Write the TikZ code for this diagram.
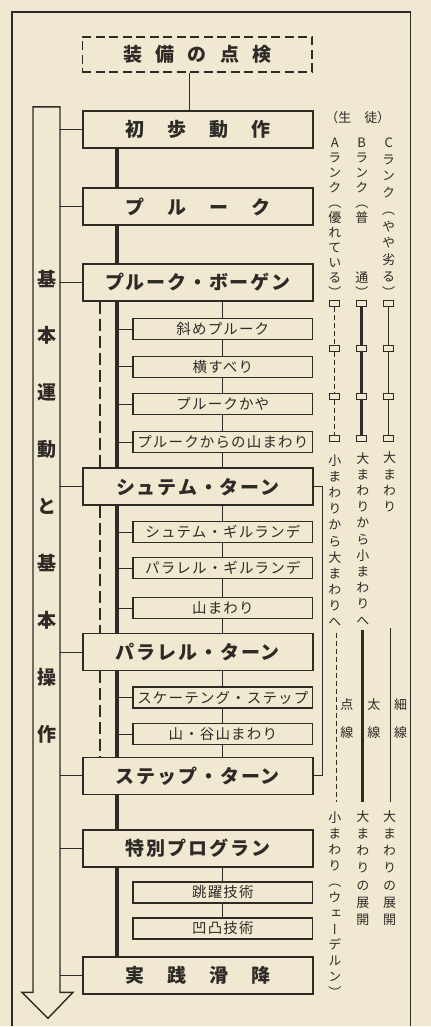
\documentclass[tikz,border=0pt]{standalone}
\usepackage{fontspec}
\setmainfont{Noto Sans CJK JP}
\newfontfamily\jp{Noto Sans CJK JP}
\newfontfamily\jpmain[LetterSpace=10]{Noto Sans CJK JP}
\newfontfamily\jpsub[LetterSpace=8]{Noto Sans CJK JP}
\newfontfamily\jpvert[RawFeature=+vert]{Noto Sans CJK JP}

\tikzset{
  mainbox/.style={draw=kInk,fill=kPaper,line width=1.8pt,minimum width=230pt,minimum height=37pt,inner sep=0pt,text=kInk,font=\jpmain\bfseries\fontsize{19}{19}\selectfont},
  prepbox/.style={mainbox,dash pattern=on 9pt off 4.5pt,minimum height=35pt},
  subbox/.style={draw=kInk,fill=kPaper,line width=1.3pt,minimum width=180pt,minimum height=21pt,inner sep=0pt,text=kInk,font=\jpsub\fontsize{14.5}{14.5}\selectfont},
  arrowtext/.style={align=center,inner sep=0pt,text=kInk,font=\jp\bfseries\fontsize{19}{57}\selectfont},
  vlabel/.style={align=center,inner sep=0pt,text=kInk,font=\jpvert\fontsize{13}{#1}\selectfont},
  vlabel/.default=15,
  rankmarker/.style={draw=kInk,fill=kPaper,line width=0.8pt,minimum width=10pt,minimum height=6pt,inner sep=0pt},
  thinline/.style={draw=kInk,line width=1pt},
  trunkline/.style={draw=kInk,line width=4.5pt},
  dashline/.style={draw=kInk,line width=1.8pt,dash pattern=on 12pt off 5pt},
  rankdash/.style={draw=kInk,line width=1.2pt,dash pattern=on 5pt off 3pt},
  rankthick/.style={draw=kInk,line width=3pt},
  rankthin/.style={draw=kInk,line width=0.8pt}
}

\begin{document}
\begin{tikzpicture}[x=1pt,y=-1pt]
  \definecolor{kInk}{rgb}{0.18,0.17,0.15}
  \definecolor{kPaper}{rgb}{0.94,0.91,0.82}

  \fill[kPaper] (0,0) rectangle (431,1027);
  \draw[kInk,line width=1.4pt] (12,1027) -- (12,12) -- (411,12) -- (411,1027);

  \draw[kInk,line width=1.4pt,fill=kPaper] (33,107) -- (60,107) -- (60,993) -- (73,993) -- (48,1019) -- (22,993) -- (33,993) -- cycle;
  \node[arrowtext] (basics) at (47,507) {基\\本\\運\\動\\と\\基\\本\\操\\作};

  \coordinate (arrowx) at (60,0);
  \coordinate (trunkx) at (117,0);
  \coordinate (dashx) at (100,0);
  \coordinate (midx) at (223,0);
  \coordinate (prepx) at (190,0);

  \node[prepbox] (prep) at (197.5,54.5) {装\hspace{.7em}備\hspace{.7em}の\hspace{.7em}点\hspace{.7em}検};

  \foreach \n/\y/\t in {shoho/129.5/初　歩　動　作, pflug/207/プ　ル　ー　ク, bogen/282.5/プルーク・ボーゲン,
                        stem/487/シュテム・ターン, parallel/652.5/パラレル・ターン, step/776.5/ステップ・ターン,
                        special/849/特別プログラン, practice/976/実　践　滑　降}
    \node[mainbox] (\n) at (198,\y) {\t};

  \foreach \n/\y/\t in {naname/329.5/斜めプルーク, yoko/367/横すべり, kaya/404.5/プルークかや,
                        yama/442.5/プルークからの山まわり, stemg/532.5/シュテム・ギルランデ,
                        parag/568.5/パラレル・ギルランデ, yamab/608.5/山まわり,
                        skate/698/スケーテング・ステップ, tani/734.5/山・谷山まわり,
                        jump/893/跳躍技術, bump/929/凹凸技術}
    \node[subbox] (\n) at (223,\y) {\t};

  \draw[thinline] (prep.south -| prepx) -- (shoho.north -| prepx);

  \foreach \a/\b in {shoho/pflug,pflug/bogen,bogen/stem,stem/parallel,parallel/step,step/special,special/practice}
    \draw[trunkline] (\a.south -| trunkx) -- (\b.north -| trunkx);

  \foreach \a/\b in {bogen/stem,stem/parallel,parallel/step}
    \draw[dashline] (\a.south -| dashx) -- (\b.north -| dashx);

  \foreach \a/\b in {bogen/naname,naname/yoko,yoko/kaya,kaya/yama,yama/stem,
                     stem/stemg,stemg/parag,parag/yamab,yamab/parallel,
                     parallel/skate,skate/tani,tani/step,special/jump,jump/bump}
    \draw[thinline] (\a.south -| midx) -- (\b.north -| midx);

  \foreach \s in {naname,yoko,kaya,yama,stemg,parag,yamab,skate,tani}
    \draw[thinline] (\s.west -| trunkx) -- (\s.west);

  \foreach \m in {shoho,pflug,bogen,stem,parallel,step,special,practice}
    \draw[thinline] (\m.west -| arrowx) -- (\m.west);

  \draw[thinline] (stem.east) -- ++(9,0) |- (step.east);

  \node[text=kInk,inner sep=0pt,font=\jp\fontsize{13}{13}\selectfont] (pupils) at (358,118) {（生　徒）};
  \node[vlabel] (rankA) at (335,218) {A\\ラ\\ン\\ク\\（\\優\\れ\\て\\い\\る\\）};
  \node[vlabel] (rankB) at (362,218) {B\\ラ\\ン\\ク\\（\\普\\[45pt]通\\）};
  \node[vlabel=16.7] (rankC) at (389,218) {C\\ラ\\ン\\ク\\（\\や\\や\\劣\\る\\）};

  \foreach \c/\x in {a/335,b/362,c/389}
    \foreach \i/\y in {1/304,2/349,3/397,4/439}
      \node[rankmarker] (\c\i) at (\x,\y) {};

  \foreach \c/\s in {a/rankdash,b/rankthick,c/rankthin}
    \foreach \i/\j in {1/2,2/3,3/4}
      \draw[\s] (\c\i) -- (\c\j);

  \node[vlabel=16.2] (turnA) at (335,541) {小\\ま\\わ\\り\\か\\ら\\大\\ま\\わ\\り\\へ};
  \node[vlabel=16.2] (turnB) at (363,539) {大\\ま\\わ\\り\\か\\ら\\小\\ま\\わ\\り\\へ};
  \node[vlabel=16.3] (turnC) at (390,482.5) {大\\ま\\わ\\り};

  \coordinate (lineAtop) at (337,633);
  \coordinate (lineAbot) at (337,803);
  \coordinate (lineBtop) at (363,630);
  \coordinate (lineBbot) at (363,803);
  \coordinate (lineCtop) at (391,628);
  \coordinate (lineCbot) at (391,803);
  \draw[rankdash] (lineAtop) -- (lineAbot);
  \draw[rankthick] (lineBtop) -- (lineBbot);
  \draw[rankthin] (lineCtop) -- (lineCbot);

  \node[vlabel=28] (dotted) at (347,719) {点\\線};
  \node[vlabel=28] (bold) at (374,719) {太\\線};
  \node[vlabel=28] (fine) at (401,719) {細\\線};

  \node[vlabel=15.9] (endA) at (335,905.5) {小\\ま\\わ\\り\\（\\ウ\\ェ\\ー\\デ\\ル\\ン\\）};
  \node[vlabel=17.2] (endB) at (363,868.5) {大\\ま\\わ\\り\\の\\展\\開};
  \node[vlabel=17.2] (endC) at (390,868.5) {大\\ま\\わ\\り\\の\\展\\開};
\end{tikzpicture}
\end{document}
